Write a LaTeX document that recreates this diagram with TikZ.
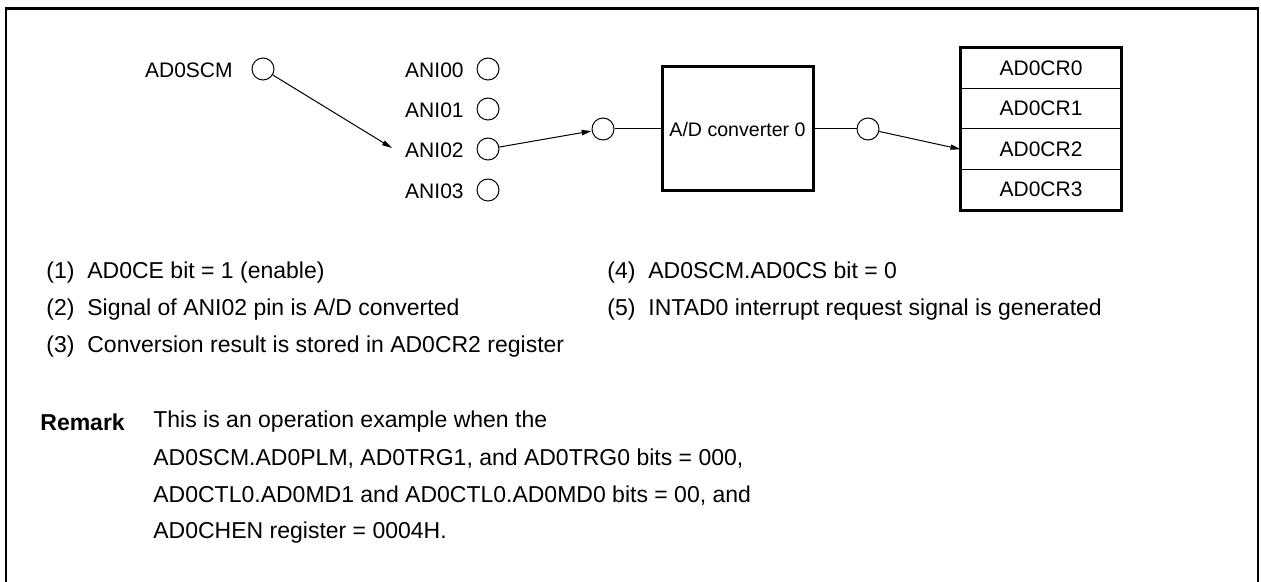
\documentclass[tikz,border=0pt]{standalone}
\usepackage{fontspec}
\setmainfont{Liberation Sans}
\usetikzlibrary{arrows.meta}

\tikzset{
	pin/.style={circle, draw, line width=0.5pt, minimum size=11pt, inner sep=0pt},
	lbl/.style={anchor=east, inner sep=0pt},
	reg/.style={draw, line width=0.5pt, minimum width=80pt, minimum height=20.25pt, inner sep=0pt},
	note/.style={anchor=west, inner sep=0pt, font=\fontsize{11.5}{14}\selectfont},
	wire/.style={line width=0.5pt},
	sig/.style={line width=0.5pt, -{Triangle[length=5pt,width=2.6pt]}}
}

\begin{document}
\begin{tikzpicture}[x=0.5pt, y=-0.5pt, font=\fontsize{10.5}{12}\selectfont]
	\useasboundingbox (0,0) rectangle (1261,582);
	% Frame:
	\draw[line width=1.3pt] (6,582) -- (6,8.5) -- (1258,8.5) -- (1258,582);
	% Analog inputs:
	\node[lbl] (scmtxt) at (233,70) {AD0SCM};
	\node[pin] (scm) at (263,69) {};
	\node[lbl] (ani0txt) at (464,70) {ANI00};
	\node[pin] (ani0) at (488,69) {};
	\node[lbl] (ani1txt) at (464,110) {ANI01};
	\node[pin] (ani1) at (488,109) {};
	\node[lbl] (ani2txt) at (464,150) {ANI02};
	\node[pin] (ani2) at (488,149) {};
	\node[lbl] (ani3txt) at (464,191) {ANI03};
	\node[pin] (ani3) at (488,190) {};
	\coordinate (ani2in) at (392,148);
	% Converter and result registers:
	\node[pin] (cin) at (603,129) {};
	\node[draw, line width=1.5pt, minimum width=75.5pt, minimum height=62pt, inner sep=0pt, font=\fontsize{9.8}{12}\selectfont] (adc) at (737.5,129) {A/D converter 0};
	\node[pin] (cout) at (868,129) {};
	\node[reg] (r0) at (1041,68.25) {AD0CR0};
	\node[reg] (r1) at (1041,108.75) {AD0CR1};
	\node[reg] (r2) at (1041,149.25) {AD0CR2};
	\node[reg] (r3) at (1041,189.75) {AD0CR3};
	\draw[line width=1.5pt] (r0.north west) rectangle (r3.south east);
	% Connections:
	\draw[sig] (scm) -- (ani2in);
	\draw[sig] (ani2) -- (cin);
	\draw[wire] (cin) -- (adc);
	\draw[wire] (adc) -- (cout);
	\draw[sig] (cout) -- (r2.west);
	% Operation steps:
	\node[note] (s1) at (46,273) {\makebox[20.5pt][l]{(1)}AD0CE bit = 1 (enable)};
	\node[note] (s2) at (46,310) {\makebox[20.5pt][l]{(2)}Signal of ANI02 pin is A/D converted};
	\node[note] (s3) at (46,347) {\makebox[20.5pt][l]{(3)}Conversion result is stored in AD0CR2 register};
	\node[note] (s4) at (607,273) {\makebox[20.5pt][l]{(4)}AD0SCM.AD0CS bit = 0};
	\node[note] (s5) at (607,310) {\makebox[20.5pt][l]{(5)}INTAD0 interrupt request signal is generated};
	% Remark:
	\node[note, font=\fontsize{11.5}{14}\selectfont\bfseries] (rem) at (40,422) {Remark};
	\node[note] (rem1) at (153,422) {This is an operation example when the};
	\node[note] (rem2) at (153,459) {AD0SCM.AD0PLM, AD0TRG1, and AD0TRG0 bits = 000,};
	\node[note] (rem3) at (153,496) {AD0CTL0.AD0MD1 and AD0CTL0.AD0MD0 bits = 00, and};
	\node[note] (rem4) at (153,533) {AD0CHEN register = 0004H.};
\end{tikzpicture}
\end{document}
